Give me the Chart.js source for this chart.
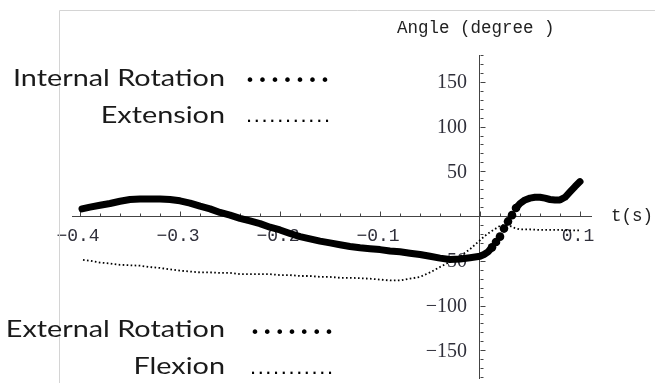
<!DOCTYPE html>
<html><head><meta charset="utf-8">
<script src="https://cdn.jsdelivr.net/npm/chart.js@4/dist/chart.umd.min.js"></script>
<style>html,body{margin:0;padding:0;background:#fff;}#wrap{width:655px;height:383px;position:relative;}</style>
</head><body><div id="wrap"><canvas id="c" width="655" height="383"></canvas></div>
<script>
// ---- data ----
const rotationT = [-0.398,-0.39,-0.38,-0.37,-0.36,-0.35,-0.34,-0.33,-0.32,-0.31,-0.30,-0.29,-0.28,-0.27,-0.26,-0.25,-0.24,-0.23,-0.22,-0.21,-0.20,-0.19,-0.18,-0.17,-0.16,-0.15,-0.14,-0.13,-0.12,-0.11,-0.10,-0.09,-0.08,-0.07,-0.06,-0.05,-0.04,-0.03,-0.02,-0.01,0,0.004,0.008,0.012,0.016,0.02,0.024,0.028,0.032,0.036,0.04,0.045,0.05,0.055,0.06,0.065,0.07,0.075,0.08,0.085,0.09,0.095,0.10];
const rotationAngle = [8,10,12,14,16.5,18.5,19,19,19,18.5,17,14.5,11,8,4,1,-2.5,-5.5,-8.5,-12.5,-15.5,-19.5,-23,-25.5,-28,-30,-32,-34,-35.5,-36.5,-37.5,-39,-40,-41.5,-43,-45,-47,-48.5,-48,-46.5,-45,-43,-40,-35,-29,-23,-14,-6,1,9,14,18,20,21,21,20,18.5,18,18,21,27,33,38.5];
const flexionT = [-0.397,-0.39,-0.38,-0.37,-0.36,-0.35,-0.34,-0.33,-0.32,-0.31,-0.30,-0.29,-0.28,-0.27,-0.26,-0.25,-0.24,-0.23,-0.22,-0.21,-0.20,-0.19,-0.18,-0.17,-0.16,-0.15,-0.14,-0.13,-0.12,-0.11,-0.10,-0.09,-0.08,-0.07,-0.06,-0.05,-0.04,-0.03,-0.02,-0.01,0,0.005,0.01,0.02,0.025,0.03,0.035,0.04,0.05,0.06,0.07,0.08,0.09,0.10];
const flexionAngle = [-49,-50,-52,-53,-54.5,-55,-55.5,-57,-58,-59.5,-61,-62,-63,-63,-63.5,-63.5,-65,-65,-65,-65,-66,-66,-67,-67,-68,-68,-69,-69,-69.5,-70,-71,-72,-72,-70,-68,-63,-57,-51,-45,-37,-27,-22,-18,-11,-10,-11,-13.5,-15,-15,-15.5,-15.5,-15.5,-16,-16];
const xTickLabels = [-0.4,-0.3,-0.2,-0.1,0.1];
const yTickLabels = [150,100,50,-50,-100,-150];
const upperLegend = ["Internal Rotation","Extension"];
const lowerLegend = ["External Rotation","Flexion"];
const yAxisTitle = "Angle (degree )";
const xAxisTitle = "t(s)";

const toXY = (xs, ys) => xs.map((x, i) => ({x: x, y: ys[i]}));
const minus = s => s.replace('-', '\u2212');
const INK = '#2f2f3a';

const overlay = {
  id: 'overlay',
  beforeDatasetsDraw(chart) {
    const ctx = chart.ctx, xs = chart.scales.x, ys = chart.scales.y;
    const x0 = xs.getPixelForValue(0), y0 = ys.getPixelForValue(0);
    ctx.save();
    ctx.strokeStyle = '#444'; ctx.lineWidth = 1;
    ctx.beginPath();
    xs.ticks.forEach(t => {
      const major = xTickLabels.some(v => Math.abs(v - t.value) < 1e-6) || Math.abs(t.value) < 1e-9;
      const px = Math.round(xs.getPixelForValue(t.value)) + 0.5;
      ctx.moveTo(px, Math.round(y0) + 0.5); ctx.lineTo(px, Math.round(y0) + 0.5 - (major ? 5 : 3));
    });
    ys.ticks.forEach(t => {
      const major = yTickLabels.some(v => Math.abs(v - t.value) < 1e-6);
      const py = Math.round(ys.getPixelForValue(t.value)) + 0.5;
      ctx.moveTo(Math.round(x0) + 0.5, py); ctx.lineTo(Math.round(x0) + 0.5 + (major ? 5 : 3), py);
    });
    ctx.stroke();
    // tick labels
    ctx.fillStyle = INK;
    ctx.textBaseline = 'middle';
    ctx.textAlign = 'center';
    ctx.font = '18px "Liberation Mono", monospace';
    xTickLabels.forEach(v => ctx.fillText(minus(v.toFixed(1)), xs.getPixelForValue(v) - 2, y0 + 20));
    ctx.font = '20px "Liberation Serif", serif';
    ctx.textAlign = 'right';
    yTickLabels.forEach(v => ctx.fillText(minus(String(v)), x0 - 13, ys.getPixelForValue(v) + 1));
    ctx.restore();
  },
  afterDraw(chart) {
    const ctx = chart.ctx;
    ctx.save();
    // frame lines
    ctx.strokeStyle = '#d4d4d4'; ctx.lineWidth = 1;
    ctx.beginPath(); ctx.moveTo(59.5, 383); ctx.lineTo(59.5, 10.5); ctx.lineTo(655, 10.5); ctx.stroke();
    // axis titles
    ctx.fillStyle = '#222';
    ctx.font = '17.5px "Liberation Mono", monospace';
    ctx.textBaseline = 'alphabetic'; ctx.textAlign = 'left';
    ctx.fillText(yAxisTitle, 397, 33);
    ctx.fillText(xAxisTitle, 611, 221);
    // legend texts
    ctx.fillStyle = '#1a1a1a';
    ctx.font = '23px Lato, sans-serif';
    const sc = 212 / ctx.measureText(upperLegend[0]).width;
    const fit = (txt, right, base) => {
      const w = ctx.measureText(txt).width * sc;
      ctx.save(); ctx.translate(right - w, base); ctx.scale(sc, 1); ctx.fillText(txt, 0, 0); ctx.restore();
    };
    fit(upperLegend[0], 225, 86);
    fit(upperLegend[1], 225, 123);
    fit(lowerLegend[0], 225, 337);
    fit(lowerLegend[1], 225, 374);
    // legend markers as characters
    const spread = (ch, n, x1, x2, base, font) => {
      ctx.font = font; ctx.textAlign = 'center';
      for (let i = 0; i < n; i++) ctx.fillText(ch, x1 + (x2 - x1) * i / (n - 1), base);
      ctx.textAlign = 'left';
    };
    ctx.fillStyle = '#000';
    spread('\u2022', 7, 250, 325, 86, '16px "DejaVu Sans"');
    spread('.', 11, 249, 327, 122, 'bold 12px "DejaVu Sans"');
    spread('\u2022', 7, 255, 329, 338, '16px "DejaVu Sans"');
    spread('.', 11, 253, 330, 374, 'bold 12px "DejaVu Sans"');
    ctx.restore();
  }
};

const steep = x => x >= 0.012 && x <= 0.036;

new Chart(document.getElementById('c'), {
  type: 'line',
  data: {
    datasets: [
      {
        label: 'Rotation',
        data: toXY(rotationT, rotationAngle),
        borderColor: '#000',
        backgroundColor: '#000',
        borderWidth: 7,
        borderCapStyle: 'round',
        borderJoinStyle: 'round',
        tension: 0,
        pointRadius: c => (c.raw && steep(c.raw.x)) ? 4.3 : 0,
        pointBorderWidth: 0,
        pointHoverRadius: 0,
        segment: {
          borderColor: c => (steep(c.p0.parsed.x) && steep(c.p1.parsed.x)) ? 'rgba(0,0,0,0)' : undefined
        }
      },
      {
        label: 'Flexion',
        data: toXY(flexionT, flexionAngle),
        borderColor: '#000',
        borderWidth: 1.8,
        borderDash: [1.6, 2.4],
        pointRadius: 0,
        tension: 0
      }
    ]
  },
  options: {
    responsive: false,
    animation: false,
    devicePixelRatio: 1,
    layout: {padding: {left: 72.7, right: 63.3, top: 55, bottom: 5}},
    plugins: {legend: {display: false}, tooltip: {enabled: false}},
    scales: {
      x: {
        type: 'linear',
        min: -0.4073, max: 0.1117,
        position: {y: 0},
        afterFit: s => { s.height = 0; },
        grid: {display: true, drawOnChartArea: false, drawTicks: false},
        border: {display: true, color: '#444', width: 1},
        ticks: {stepSize: 0.02, includeBounds: false, autoSkip: false, display: false}
      },
      y: {
        type: 'linear',
        min: -181, max: 180,
        position: {x: 0},
        afterFit: s => { s.width = 0; },
        grid: {display: true, drawOnChartArea: false, drawTicks: false},
        border: {display: true, color: '#444', width: 1},
        ticks: {stepSize: 10, includeBounds: false, autoSkip: false, display: false}
      }
    }
  },
  plugins: [overlay]
});
</script></body></html>
